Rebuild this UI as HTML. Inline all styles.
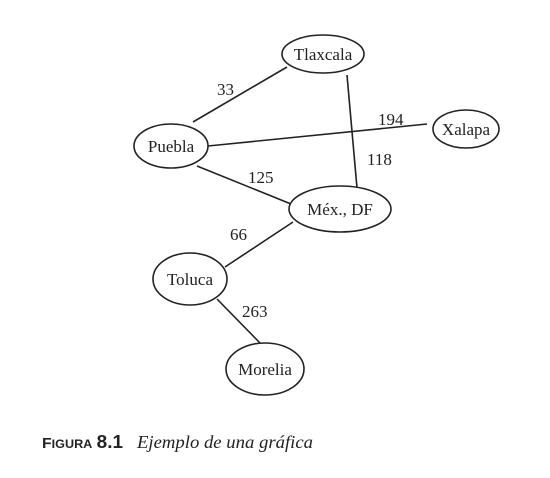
<!DOCTYPE html>
<html><head><meta charset="utf-8"><style>
html,body{margin:0;padding:0;background:#fff;width:550px;height:478px;overflow:hidden}
svg{display:block}
text{font-family:"Liberation Serif",serif;font-size:17px;fill:#222}
</style></head><body>
<svg width="550" height="478" viewBox="0 0 550 478" xmlns="http://www.w3.org/2000/svg">
<g stroke="#222" stroke-width="1.6" fill="none">
<line x1="193" y1="122" x2="287" y2="67"/>
<line x1="347" y1="75" x2="357" y2="188"/>
<line x1="208" y1="146" x2="427" y2="124"/>
<line x1="197" y1="166" x2="291" y2="204"/>
<line x1="293" y1="222" x2="225" y2="267"/>
<line x1="217" y1="299" x2="260" y2="343"/>
</g>
<g stroke="#222" stroke-width="1.6" fill="#fff">
<ellipse cx="323" cy="54" rx="41" ry="19"/>
<ellipse cx="466" cy="129" rx="33" ry="19"/>
<ellipse cx="171" cy="146" rx="37" ry="22"/>
<ellipse cx="340" cy="209" rx="51" ry="23"/>
<ellipse cx="190" cy="279" rx="37" ry="26"/>
<ellipse cx="265" cy="369" rx="39" ry="26"/>
</g>
<g text-anchor="middle" style="font-size:17.5px">
<text x="323" y="60">Tlaxcala</text>
<text x="466" y="135">Xalapa</text>
<text x="171" y="152">Puebla</text>
<text x="340" y="215">Méx., DF</text>
<text x="190" y="285">Toluca</text>
<text x="265" y="375">Morelia</text>
</g>
<text x="217" y="95">33</text>
<text x="378" y="125">194</text>
<text x="367" y="165">118</text>
<text x="248" y="183">125</text>
<text x="230" y="240">66</text>
<text x="242" y="317">263</text>
<text x="42" y="448" style="font-family:'Liberation Sans',sans-serif;font-weight:bold;font-size:15px" textLength="81" lengthAdjust="spacingAndGlyphs">F<tspan font-size="12">IGURA</tspan> <tspan font-size="18">8.1</tspan></text>
<text x="137" y="448" style="font-style:italic;font-size:18px" textLength="176" lengthAdjust="spacingAndGlyphs">Ejemplo de una gráfica</text>
</svg>
</body></html>
